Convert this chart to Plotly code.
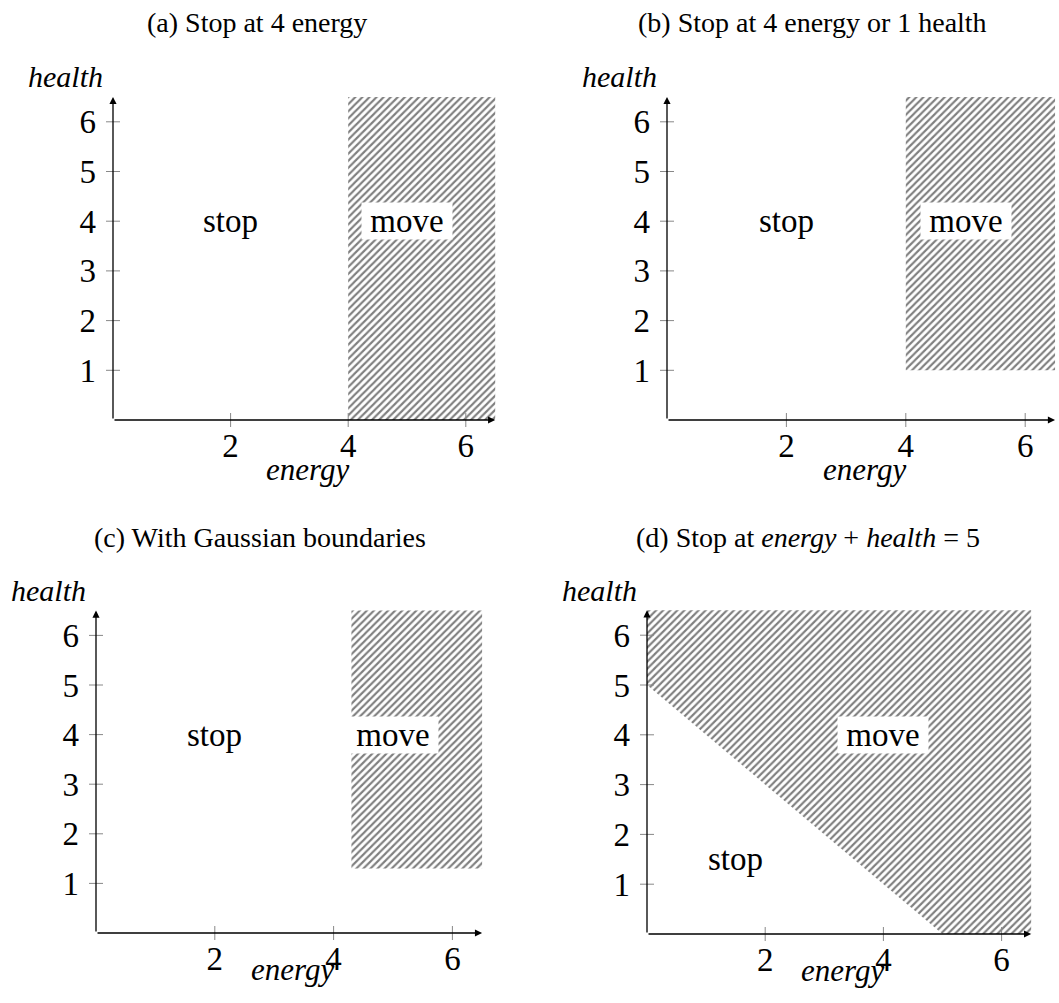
import plotly.graph_objects as go

W, H = 1059, 1003
FONT = "Liberation Serif"

# ---- data ----
x_ticks = [2, 4, 6]
y_ticks = [1, 2, 3, 4, 5, 6]
axis_end = 6.5

titles = [
    "(a) Stop at 4 energy",
    "(b) Stop at 4 energy or 1 health",
    "(c) With Gaussian boundaries",
    "(d) Stop at <i>energy</i> + <i>health</i> = 5",
]

# "move" regions (polygons in energy/health space)
move_a_x = [4, 6.5, 6.5, 4]
move_a_y = [0, 0, 6.5, 6.5]
move_b_x = [4, 6.5, 6.5, 4]
move_b_y = [1, 1, 6.5, 6.5]
move_c_x = [4.3, 6.5, 6.5, 4.3]
move_c_y = [1.3, 1.3, 6.5, 6.5]
move_d_x = [0, 5, 6.5, 6.5, 0]
move_d_y = [5, 0, 0, 6.5, 6.5]

# label positions
stop_pos = [(2, 4), (2, 4), (2, 4), (1.5, 1.5)]
move_pos = [(5, 4), (5, 4), (5, 4), (4, 4)]

moves = [(move_a_x, move_a_y), (move_b_x, move_b_y),
         (move_c_x, move_c_y), (move_d_x, move_d_y)]

# ---- layout geometry (pixels): origin and unit sizes per panel ----
geo = [
    dict(x0=113, ux=58.8, y0=420, uy=49.7, tx=257, ty=22, elab=49),
    dict(x0=667, ux=59.7, y0=420, uy=49.7, tx=812, ty=22, elab=49),
    dict(x0=96, ux=59.4, y0=933, uy=49.6, tx=260, ty=537, elab=36),
    dict(x0=647, ux=59.1, y0=934, uy=49.8, tx=808, ty=537, elab=36),
]
XMAX, YMAX = 6.55, 6.6
NB = "&nbsp;"

fig = go.Figure()
annotations = []
layout_axes = {}

for i in range(4):
    g = geo[i]
    n = "" if i == 0 else str(i + 1)
    xa, ya = "x" + n, "y" + n
    xd = [g["x0"] / W, (g["x0"] + XMAX * g["ux"]) / W]
    yd = [(H - g["y0"]) / H, (H - (g["y0"] - YMAX * g["uy"])) / H]
    layout_axes["xaxis" + n] = dict(
        domain=xd, range=[0, XMAX], anchor=ya, showgrid=False, zeroline=False,
        showline=False, ticks="", tickvals=x_ticks, ticktext=[str(t) for t in x_ticks],
        tickfont=dict(family=FONT, size=33, color="black"), ticklabelstandoff=3,
        fixedrange=True)
    layout_axes["yaxis" + n] = dict(
        domain=yd, range=[0, YMAX], anchor=xa, showgrid=False, zeroline=False,
        showline=False, ticks="", tickvals=y_ticks, ticktext=[str(t) for t in y_ticks],
        tickfont=dict(family=FONT, size=33, color="black"), ticklabelstandoff=16,
        fixedrange=True)

    mx, my = moves[i]
    fig.add_trace(go.Scatter(
        x=mx + [mx[0]], y=my + [my[0]], xaxis=xa, yaxis=ya, mode="lines",
        fill="toself", fillcolor="white", line=dict(width=0),
        fillpattern=dict(shape="/", fgcolor="black", bgcolor="white",
                         size=5, solidity=0.42, fillmode="overlay"),
        hoverinfo="skip", showlegend=False))

    # tick marks crossing the axes
    fig.add_trace(go.Scatter(
        x=x_ticks, y=[0] * len(x_ticks), xaxis=xa, yaxis=ya, mode="markers",
        marker=dict(symbol="line-ns", size=10, line=dict(width=1, color="#888")),
        cliponaxis=False, hoverinfo="skip", showlegend=False))
    fig.add_trace(go.Scatter(
        x=[0] * len(y_ticks), y=y_ticks, xaxis=xa, yaxis=ya, mode="markers",
        marker=dict(symbol="line-ew", size=10, line=dict(width=1, color="#888")),
        cliponaxis=False, hoverinfo="skip", showlegend=False))

    # axis arrows
    for (tx, ty) in [(axis_end, 0), (0, axis_end)]:
        annotations.append(dict(
            x=tx, y=ty, ax=0, ay=0, xref=xa, yref=ya, axref=xa, ayref=ya,
            text="", showarrow=True, arrowhead=2, arrowsize=1.1, arrowwidth=1.3,
            arrowcolor="black"))

    # region labels
    sx, sy = stop_pos[i]
    annotations.append(dict(x=sx, y=sy, xref=xa, yref=ya, text="stop", showarrow=False,
                            font=dict(family=FONT, size=33, color="black")))
    mvx, mvy = move_pos[i]
    annotations.append(dict(x=mvx, y=mvy, xref=xa, yref=ya, text=NB + "move" + NB,
                            showarrow=False, bgcolor="white", borderpad=0,
                            font=dict(family=FONT, size=33, color="black")))

    # axis labels
    annotations.append(dict(x=axis_end / 2 + 0.05, y=0, xref=xa, yref=ya, yshift=-g["elab"],
                            text="<i>energy</i>", showarrow=False,
                            font=dict(family=FONT, size=31, color="black")))
    annotations.append(dict(x=0, y=axis_end, xref=xa, yref=ya, xshift=-48, yshift=20,
                            text="<i>health</i>", showarrow=False,
                            font=dict(family=FONT, size=30, color="black")))

    # panel title
    annotations.append(dict(x=g["tx"] / W, y=1 - g["ty"] / H, xref="paper", yref="paper",
                            xanchor="center", yanchor="middle",
                            text=titles[i], showarrow=False,
                            font=dict(family=FONT, size=28, color="black")))

fig.update_layout(
    width=W, height=H, margin=dict(l=0, r=0, t=0, b=0),
    paper_bgcolor="white", plot_bgcolor="white", showlegend=False,
    annotations=annotations, **layout_axes)

fig.write_html("out.html")
